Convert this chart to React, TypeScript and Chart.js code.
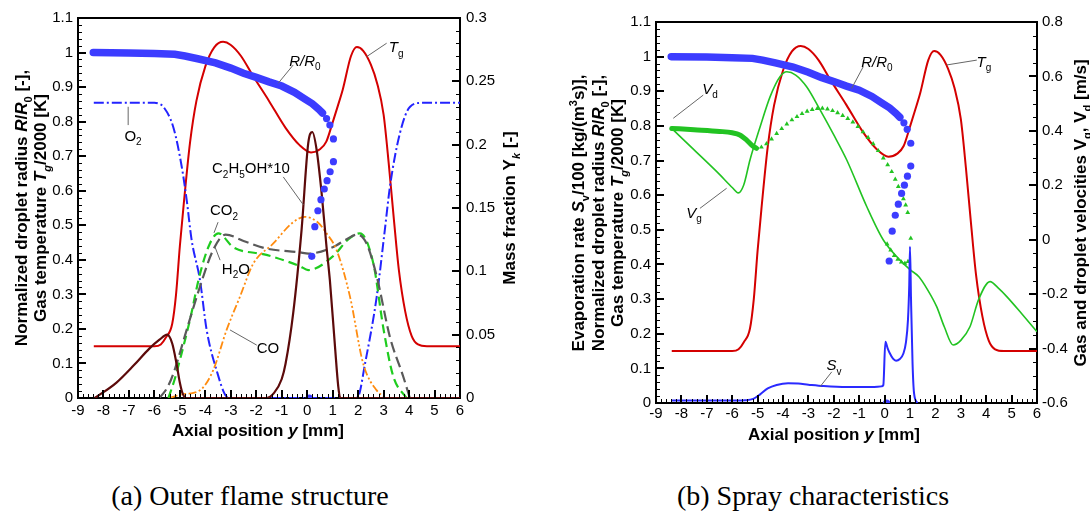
import { useEffect, useRef } from "react";
import { Chart, registerables } from "chart.js";
Chart.register(...registerables);

const SANS = '"Liberation Sans", Arial, Helvetica, sans-serif';

// ---------------- shared data (left axis units) ----------------
const tgX = [-8.38, -6.0, -5.75, -5.55, -5.3, -5.15, -5.0, -4.85, -4.6, -4.35, -4.0, -3.65, -3.3, -3.0, -2.6, -2.15, -1.5, -0.85, -0.3, 0.15, 0.5, 0.75, 1.0, 1.2, 1.4, 1.72, 1.95, 2.2, 2.5, 2.75, 3.0, 3.2, 3.4, 3.6, 3.85, 4.1, 4.35, 4.7, 6.0];
const tgY = [0.15, 0.15, 0.155, 0.175, 0.215, 0.3, 0.44, 0.56, 0.74, 0.86, 0.96, 1.015, 1.031, 1.022, 0.99, 0.935, 0.86, 0.782, 0.732, 0.711, 0.72, 0.742, 0.798, 0.845, 0.894, 0.99, 1.016, 1.005, 0.965, 0.91, 0.82, 0.68, 0.52, 0.37, 0.25, 0.18, 0.155, 0.15, 0.15];

// droplet radius R/R0: densely sampled part and the sparse droplets that turn back
const rDenseX = [-8.4, -7.0, -6.0, -5.2, -4.8, -4.3, -3.6, -3.0, -2.5, -2.0, -1.5, -1.0, -0.5, -0.1, 0.2, 0.45, 0.6];
const rDenseY = [1.0, 0.999, 0.997, 0.995, 0.99, 0.982, 0.97, 0.955, 0.94, 0.928, 0.915, 0.903, 0.885, 0.866, 0.852, 0.836, 0.825];
const rDropX = [0.76, 0.89, 1.03, 1.03, 0.9, 0.78, 0.67, 0.54, 0.42, 0.3, 0.18, 0.08];
const rDropY = [0.809, 0.79, 0.75, 0.684, 0.655, 0.629, 0.605, 0.574, 0.542, 0.496, 0.41, 0.0];

// ---------------- (a) species mass fractions ----------------
const o2X = [-8.38, -6.0, -5.78, -5.65, -5.26, -4.93, -4.73, -4.54, -4.21, -3.95, -3.56, -3.16, -3.0, 1.9, 2.0, 2.27, 2.73, 3.05, 3.25, 3.64, 4.04, 4.5, 6.0];
const o2Y = [0.233, 0.233, 0.232, 0.23, 0.214, 0.183, 0.156, 0.125, 0.093, 0.054, 0.022, 0.001, 0, 0, 0.001, 0.027, 0.08, 0.133, 0.167, 0.209, 0.23, 0.233, 0.233];

const h2oX = [-5.8, -5.5, -5.26, -4.73, -4.21, -3.69, -3.2, -2.5, -1.6, -0.3, 0.05, 1.0, 1.6, 1.95, 2.33, 2.73, 3.25, 3.77, 4.03];
const h2oY = [0, 0.008, 0.019, 0.054, 0.088, 0.117, 0.129, 0.124, 0.118, 0.115, 0.114, 0.119, 0.126, 0.129, 0.122, 0.096, 0.048, 0.017, 0];

const co2X = [-5.45, -5.2, -5.0, -4.6, -4.21, -3.82, -3.49, -2.9, -1.6, -0.28, 0.04, 1.02, 1.6, 2.07, 2.6, 3.0, 3.38, 3.9];
const co2Y = [0, 0.015, 0.03, 0.062, 0.098, 0.122, 0.13, 0.119, 0.113, 0.104, 0.101, 0.112, 0.125, 0.13, 0.106, 0.054, 0.017, 0];

const coX = [-5.4, -4.9, -4.47, -4.1, -3.69, -3.16, -2.64, -2.12, -1.33, -0.6, -0.1, 0.4, 0.76, 1.15, 1.68, 2.2, 2.73, 3.1];
const coY = [0, 0.003, 0.004, 0.008, 0.022, 0.054, 0.08, 0.106, 0.122, 0.138, 0.143, 0.139, 0.13, 0.117, 0.08, 0.027, 0.006, 0];

const ethX = [-8.34, -7.5, -6.8, -6.2, -5.8, -5.5, -5.3, -5.13, -5.0, -4.9, -4.75, -1.6, -1.3, -1.0, -0.85, -0.55, -0.22, 0.04, 0.2, 0.37, 0.57, 0.76, 0.89, 1.09, 1.22, 1.3, 6.0];
const ethY = [0, 0.012, 0.026, 0.039, 0.046, 0.05, 0.043, 0.027, 0.012, 0.004, 0, 0, 0.004, 0.015, 0.027, 0.067, 0.133, 0.201, 0.21, 0.196, 0.161, 0.119, 0.093, 0.041, 0.009, 0, 0];

// ---------------- (b) spray characteristics ----------------
const vgX = [-8.38, -7.5, -6.5, -6.0, -5.76, -5.55, -5.3, -4.9, -4.51, -4.12, -3.85, -3.5, -3.07, -2.54, -2.0, -1.49, -0.7, -0.05, 0.61, 1.0, 1.35, 1.7, 2.05, 2.35, 2.7, 3.0, 3.36, 3.7, 4.15, 4.5, 4.81, 5.4, 6.0];
const vgY = [0.409, 0.33, 0.24, 0.192, 0.172, 0.2, 0.293, 0.415, 0.525, 0.599, 0.617, 0.605, 0.562, 0.477, 0.385, 0.293, 0.121, -0.001, -0.075, -0.11, -0.136, -0.185, -0.246, -0.32, -0.387, -0.37, -0.32, -0.22, -0.154, -0.18, -0.209, -0.272, -0.338];

const vdDenseX = [-8.38, -7.5, -6.5, -6.0, -5.7, -5.43, -5.2, -5.04];
const vdDenseY = [0.409, 0.404, 0.398, 0.393, 0.385, 0.366, 0.345, 0.336];
const vdX = [-4.85, -4.65, -4.45, -4.25, -4.05, -3.85, -3.65, -3.45, -3.25, -3.05, -2.85, -2.65, -2.45, -2.25, -2.05, -1.85, -1.65, -1.45, -1.25, -1.05, -0.85, -0.65, -0.45, -0.25, -0.05, 0.12, 0.28, 0.42, 0.54, 0.64, 0.74, 0.83, 0.91, 1.03, 0.92, 0.8, 0.66, 0.52, 0.38, 0.24, 0.1];
const vdY = [0.34, 0.352, 0.37, 0.39, 0.408, 0.425, 0.44, 0.452, 0.463, 0.472, 0.478, 0.482, 0.483, 0.48, 0.474, 0.466, 0.456, 0.445, 0.432, 0.416, 0.396, 0.375, 0.352, 0.327, 0.3, 0.275, 0.25, 0.222, 0.195, 0.172, 0.15, 0.127, 0.1, 0.005, -0.08, -0.087, -0.082, -0.072, -0.058, -0.038, -0.016];

const svX = [-8.38, -6.0, -5.5, -5.17, -4.9, -4.6, -4.25, -3.8, -3.4, -3.0, -2.4, -1.5, -0.5, -0.12, -0.05, 0.03, 0.12, 0.21, 0.33, 0.45, 0.6, 0.74, 0.84, 0.92, 0.97, 1.0, 1.04, 1.1, 1.16, 1.29];
const svY = [0.007, 0.007, 0.008, 0.012, 0.025, 0.042, 0.052, 0.057, 0.056, 0.053, 0.049, 0.046, 0.046, 0.048, 0.052, 0.177, 0.158, 0.143, 0.128, 0.122, 0.127, 0.143, 0.175, 0.24, 0.34, 0.451, 0.3, 0.115, 0.028, 0];

const pts = (xs: number[], ys: number[]) => xs.map((x, i) => ({ x, y: ys[i] }));

// ---------------- rich text + decoration plugin ----------------
type Seg = { t: string; i?: boolean; s?: "sub" | "sup" };
type Note = { segs: Seg[]; x: number; y: number; lx: number[]; ly: number[] };
type Title = { segs: Seg[]; x: number; y: number; rotate: boolean };
type TickSpec = { side: "bottom" | "left" | "right"; count: number; every: number };

function drawRich(ctx: CanvasRenderingContext2D, segs: Seg[], x: number, y: number, size: number, bold: boolean, rotate: boolean) {
  ctx.save();
  ctx.translate(x, y);
  if (rotate) ctx.rotate(-Math.PI / 2);
  const font = (s: Seg) => `${s.i ? "italic " : ""}${bold ? "bold " : ""}${s.s ? Math.round(size * 0.66) : size}px ${SANS}`;
  let total = 0;
  const ws = segs.map((s) => {
    ctx.font = font(s);
    const w = ctx.measureText(s.t).width;
    total += w;
    return w;
  });
  let cx = -total / 2;
  ctx.textBaseline = "alphabetic";
  ctx.textAlign = "left";
  ctx.fillStyle = "#000";
  const base = size * 0.36;
  segs.forEach((s, k) => {
    ctx.font = font(s);
    const dy = s.s === "sub" ? size * 0.3 : s.s === "sup" ? -size * 0.42 : 0;
    ctx.fillText(s.t, cx, base + dy);
    cx += ws[k];
  });
  ctx.restore();
}

function makeDeco(tickSpecs: TickSpec[], notes: Note[], titles: Title[]) {
  return {
    id: "deco",
    afterDraw(chart: any) {
      const ctx: CanvasRenderingContext2D = chart.ctx;
      const xs = chart.scales.x;
      const ys = chart.scales.y;
      const L0 = xs.getPixelForValue(xs.min);
      const R0 = xs.getPixelForValue(xs.max);
      const B0 = ys.getPixelForValue(ys.min);
      const T0 = ys.getPixelForValue(ys.max);
      ctx.save();
      ctx.setLineDash([]);
      ctx.globalAlpha = 1;
      ctx.strokeStyle = "#000";
      ctx.lineWidth = 2;
      ctx.beginPath();
      ctx.moveTo(L0 - 1, T0);
      ctx.lineTo(R0 + 1, T0);
      ctx.stroke();
      for (const t of tickSpecs) {
        for (let k = 1; k < t.count; k++) {
          const frac = k / t.count;
          const maj = k % t.every === 0;
          const len = maj ? 8 : 4;
          ctx.strokeStyle = "#000";
          ctx.lineWidth = maj ? 2 : 1;
          ctx.beginPath();
          if (t.side === "bottom") {
            const p = Math.round(L0 + frac * (R0 - L0)) + (maj ? 0 : 0.5);
            ctx.moveTo(p, B0);
            ctx.lineTo(p, B0 - len);
          } else {
            const p = Math.round(B0 - frac * (B0 - T0)) + (maj ? 0 : 0.5);
            if (t.side === "left") {
              ctx.moveTo(L0, p);
              ctx.lineTo(L0 + len, p);
            } else {
              ctx.moveTo(R0, p);
              ctx.lineTo(R0 - len, p);
            }
          }
          ctx.stroke();
        }
      }
      for (const nt of notes) {
        ctx.strokeStyle = "#666";
        ctx.lineWidth = 1;
        ctx.beginPath();
        ctx.moveTo(xs.getPixelForValue(nt.lx[0]), ys.getPixelForValue(nt.ly[0]));
        ctx.lineTo(xs.getPixelForValue(nt.lx[1]), ys.getPixelForValue(nt.ly[1]));
        ctx.stroke();
        drawRich(ctx, nt.segs, xs.getPixelForValue(nt.x), ys.getPixelForValue(nt.y), 15, false, false);
      }
      for (const tt of titles) drawRich(ctx, tt.segs, tt.x, tt.y, 17, true, tt.rotate);
      ctx.restore();
    },
  };
}

const tickFont = { family: SANS, size: 15 };
const fmt = (v: any) => String(Math.round(Number(v) * 1000) / 1000);

function axisX(pad: number, h: number) {
  return {
    type: "linear", min: -9, max: 6, position: "bottom",
    ticks: { stepSize: 1, font: tickFont, color: "#000", padding: pad, maxRotation: 0, autoSkip: false, callback: fmt },
    grid: { display: false, drawTicks: false },
    border: { display: true, color: "#000", width: 2 },
    afterFit: (s: any) => { s.height = h; },
  };
}
function axisY(pos: string, min: number, max: number, step: number, w: number, pad: number) {
  return {
    type: "linear", position: pos, min, max,
    ticks: { stepSize: step, font: tickFont, color: "#000", padding: pad, autoSkip: false, callback: fmt },
    grid: { display: false, drawTicks: false },
    border: { display: true, color: "#000", width: 2 },
    afterFit: (s: any) => { s.width = w; },
  };
}

const lineDs = (label: string, d: any[], color: string, width: number, axis: string, dash: number[] = []) => ({
  label, data: d, borderColor: color, borderWidth: width, borderDash: dash, yAxisID: axis,
  pointRadius: 0, fill: false, cubicInterpolationMode: "monotone", showLine: true,
});

const rSegs: Seg[] = [{ t: "R/R", i: true }, { t: "0", s: "sub" }];
const tSegs: Seg[] = [{ t: "T", i: true }, { t: "g", s: "sub" }];

function buildLeft(): any {
  const notes: Note[] = [
    { segs: rSegs, x: -0.09, y: 0.978, lx: [-0.55, -1.14], ly: [0.964, 0.911] },
    { segs: tSegs, x: 3.49, y: 1.016, lx: [3.12, 2.33], ly: [1.027, 0.988] },
    { segs: [{ t: "O" }, { t: "2", s: "sub" }], x: -6.84, y: 0.761, lx: [-7.03, -7.03], ly: [0.79, 0.843] },
    { segs: [{ t: "C" }, { t: "2", s: "sub" }, { t: "H" }, { t: "5", s: "sub" }, { t: "OH*10" }], x: -2.21, y: 0.666, lx: [-0.94, -0.15], ly: [0.64, 0.559] },
    { segs: [{ t: "CO" }, { t: "2", s: "sub" }], x: -3.27, y: 0.544, lx: [-3.5, -3.66], ly: [0.509, 0.478] },
    { segs: [{ t: "H" }, { t: "2", s: "sub" }, { t: "O" }], x: -2.8, y: 0.376, lx: [-3.42, -3.62], ly: [0.399, 0.437] },
    { segs: [{ t: "CO" }], x: -1.54, y: 0.145, lx: [-1.98, -3.03], ly: [0.153, 0.197] },
  ];
  const titles: Title[] = [
    { segs: [{ t: "Normalized droplet radius " }, { t: "R", i: true }, { t: "/" }, { t: "R", i: true }, { t: "0", s: "sub" }, { t: " [-]," }], x: 21, y: 208, rotate: true },
    { segs: [{ t: "Gas temperature " }, { t: "T", i: true }, { t: "g", s: "sub", i: true }, { t: "/2000 [K]" }], x: 40, y: 208, rotate: true },
    { segs: [{ t: "Mass fraction Y" }, { t: "k", s: "sub", i: true }, { t: " [-]" }], x: 509, y: 208, rotate: true },
    { segs: [{ t: "Axial position " }, { t: "y", i: true }, { t: " [mm]" }], x: 258, y: 430, rotate: false },
  ];
  // x: 15 mm in 0.2 steps; y: 1.1 in 0.02 steps; y2: 0.3 in 0.01 steps
  const ticks: TickSpec[] = [
    { side: "bottom", count: 75, every: 5 },
    { side: "left", count: 55, every: 5 },
    { side: "right", count: 30, every: 5 },
  ];
  return {
    type: "line",
    data: {
      datasets: [
        { label: "R/R0 (droplets)", data: pts(rDropX, rDropY), yAxisID: "y", showLine: false, pointRadius: 3.6, pointBackgroundColor: "#3c3cff", pointBorderWidth: 0 },
        { label: "R/R0", data: pts(rDenseX, rDenseY), yAxisID: "y", showLine: true, borderColor: "#3c3cff", borderWidth: 7.5, borderCapStyle: "round", pointRadius: 0, tension: 0 },
        lineDs("C2H5OH*10", pts(ethX, ethY), "#5c0a0a", 2.2, "y2"),
        lineDs("CO", pts(coX, coY), "#ff8c10", 1.8, "y2", [8, 2.5, 2, 2.5, 2, 2.5]),
        lineDs("H2O", pts(h2oX, h2oY), "#5a5a5a", 2.2, "y2", [11, 5]),
        lineDs("CO2", pts(co2X, co2Y), "#1fcc1f", 2.2, "y2", [9, 5]),
        lineDs("O2", pts(o2X, o2Y), "#2323ff", 2, "y2", [10, 3, 2, 3]),
        lineDs("Tg", pts(tgX, tgY), "#d40000", 2, "y"),
      ],
    },
    options: {
      animation: false, responsive: false, maintainAspectRatio: false,
      layout: { padding: { top: 18, left: 0, right: 0, bottom: 0 } },
      plugins: { legend: { display: false }, tooltip: { enabled: false } },
      scales: {
        x: axisX(4, 47),
        y: axisY("left", 0, 1.1, 0.1, 78, 5),
        y2: axisY("right", 0, 0.3, 0.05, 85, 6),
      },
    },
    plugins: [makeDeco(ticks, notes, titles)],
  };
}

function buildRight(): any {
  const notes: Note[] = [
    { segs: [{ t: "V", i: true }, { t: "d", s: "sub" }], x: -6.87, y: 0.909, lx: [-7.14, -8.32], ly: [0.889, 0.822] },
    { segs: [{ t: "V", i: true }, { t: "g", s: "sub" }], x: -7.5, y: 0.551, lx: [-7.27, -6.22], ly: [0.562, 0.62] },
    { segs: rSegs, x: -0.3, y: 0.987, lx: [-0.84, -1.3], ly: [0.971, 0.908] },
    { segs: tSegs, x: 3.91, y: 0.987, lx: [3.63, 2.45], ly: [0.99, 0.976] },
    { segs: [{ t: "S", i: true }, { t: "v", s: "sub" }], x: -1.99, y: 0.11, lx: [-2.08, -2.54], ly: [0.09, 0.047] },
  ];
  const titles: Title[] = [
    { segs: [{ t: "Evaporation rate " }, { t: "S", i: true }, { t: "v", s: "sub" }, { t: "/100 [kg/(m" }, { t: "3", s: "sup" }, { t: "s)]," }], x: 33, y: 213, rotate: true },
    { segs: [{ t: "Normalized droplet radius " }, { t: "R", i: true }, { t: "/" }, { t: "R", i: true }, { t: "0", s: "sub" }, { t: " [-]," }], x: 53, y: 213, rotate: true },
    { segs: [{ t: "Gas temperature " }, { t: "T", i: true }, { t: "g", s: "sub", i: true }, { t: "/2000 [K]" }], x: 72, y: 213, rotate: true },
    { segs: [{ t: "Gas and droplet velocities V" }, { t: "g", s: "sub" }, { t: ", V" }, { t: "d", s: "sub" }, { t: " [m/s]" }], x: 535, y: 213, rotate: true },
    { segs: [{ t: "Axial position " }, { t: "y", i: true }, { t: " [mm]" }], x: 289, y: 434, rotate: false },
  ];
  // x: 0.2 steps; y: 0.02 steps; y2: 1.4 in 0.05 steps
  const ticks: TickSpec[] = [
    { side: "bottom", count: 75, every: 5 },
    { side: "left", count: 55, every: 5 },
    { side: "right", count: 28, every: 4 },
  ];
  return {
    type: "line",
    data: {
      datasets: [
        lineDs("Sv/100", pts(svX, svY), "#2a2aff", 2, "y"),
        { label: "R/R0 (droplets)", data: pts(rDropX, rDropY), yAxisID: "y", showLine: false, pointRadius: 3.6, pointBackgroundColor: "#3c3cff", pointBorderWidth: 0 },
        { label: "R/R0", data: pts(rDenseX, rDenseY), yAxisID: "y", showLine: true, borderColor: "#3c3cff", borderWidth: 7.5, borderCapStyle: "round", pointRadius: 0, tension: 0 },
        { label: "Vd", data: pts(vdX, vdY), yAxisID: "y2", showLine: false, pointStyle: "triangle", pointRadius: 2.8, pointBackgroundColor: "#22c322", pointBorderWidth: 0 },
        { label: "Vd (dense)", data: pts(vdDenseX, vdDenseY), yAxisID: "y2", showLine: true, borderColor: "#22c322", borderWidth: 5, borderCapStyle: "round", pointRadius: 0, cubicInterpolationMode: "monotone" },
        lineDs("Vg", pts(vgX, vgY), "#22c322", 1.6, "y2"),
        lineDs("Tg", pts(tgX, tgY), "#d40000", 2, "y"),
      ],
    },
    options: {
      animation: false, responsive: false, maintainAspectRatio: false,
      layout: { padding: { top: 22, left: 0, right: 0, bottom: 0 } },
      plugins: { legend: { display: false }, tooltip: { enabled: false } },
      scales: {
        x: axisX(2, 42),
        y: axisY("left", 0, 1.1, 0.1, 111, 5),
        y2: axisY("right", -0.6, 0.8, 0.2, 53, 5),
      },
    },
    plugins: [makeDeco(ticks, notes, titles)],
  };
}

function Panel({ build, left }: { build: () => any; left: number }) {
  const ref = useRef<HTMLCanvasElement>(null);
  useEffect(() => {
    const c = new Chart(ref.current as HTMLCanvasElement, build());
    return () => c.destroy();
  }, []);
  return (
    <canvas ref={ref} width={545} height={445}
      style={{ position: "absolute", left, top: 0, width: 545, height: 445 }} />
  );
}

const captionStyle: any = {
  position: "absolute", top: 482, width: 500, textAlign: "center",
  fontFamily: '"Liberation Serif", "Times New Roman", serif', fontSize: 28, lineHeight: "28px", color: "#000",
  whiteSpace: "nowrap",
};

export default function App() {
  return (
    <div style={{ position: "fixed", left: 0, top: 0, width: 1090, height: 511, background: "#fff", overflow: "hidden" }}>
      <Panel build={buildLeft} left={0} />
      <Panel build={buildRight} left={545} />
      <div style={{ ...captionStyle, left: 0 }}>(a) Outer flame structure</div>
      <div style={{ ...captionStyle, left: 563 }}>(b) Spray characteristics</div>
    </div>
  );
}
